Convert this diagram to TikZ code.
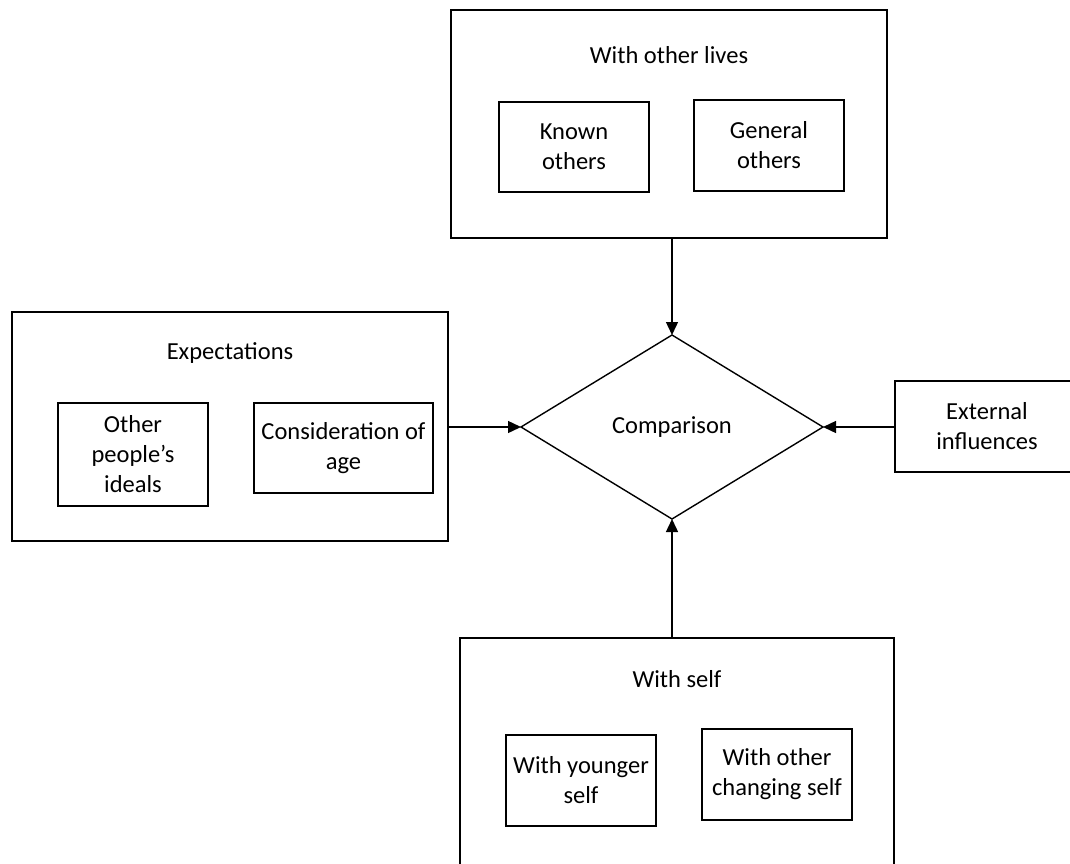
\documentclass[tikz,border=0pt]{standalone}
\usepackage{fontspec}
\setmainfont{Carlito}
\usetikzlibrary{shapes.geometric,arrows.meta}

\tikzset{
  box/.style={draw, line width=1.4pt, rectangle, inner sep=0pt, outer sep=0pt,
              align=center, font=\fontsize{24.5}{30}\selectfont},
  title/.style={inner sep=0pt, font=\fontsize{24.5}{30}\selectfont},
  decision/.style={draw, line width=1.4pt, diamond, inner sep=0pt, outer sep=0pt,
              minimum width=302pt, minimum height=184pt,
              font=\fontsize{24.5}{30}\selectfont},
  flow/.style={line width=1.4pt, -{Triangle[length=13pt,width=12pt]}}
}

\begin{document}
\begin{tikzpicture}[x=1pt,y=-1pt]
  \useasboundingbox (0,0) rectangle (1070,864);

  % Upper group: comparison with other lives
  \node[box, minimum width=436pt, minimum height=228pt] (lives) at (669,124) {};
  \node[title] (livesT) at (669,55) {With other lives};
  \node[box, minimum width=150pt, minimum height=90pt] (known) at (574,147) {Known\\others};
  \node[box, minimum width=150pt, minimum height=91pt] (general) at (769,145.5) {General\\others};

  % Left group: expectations
  \node[box, minimum width=436pt, minimum height=229pt] (expect) at (230,426.5) {};
  \node[title] (expectT) at (230,353) {Expectations};
  \node[box, minimum width=150pt, minimum height=103pt] (ideals) at (133,454.5) {Other\\people’s\\ideals};
  \node[box, minimum width=179pt, minimum height=90pt] (age) at (343.5,448) {Consideration of\\age};

  % Central decision
  \node[decision] (cmp) at (672,427) {Comparison};

  % Right: external influences
  \node[box, minimum width=184pt, minimum height=91pt] (ext) at (987,426.5) {External\\influences};

  % Lower group: comparison with self
  \node[box, minimum width=434pt, minimum height=262pt] (selfbox) at (677,769) {};
  \node[title] (selfT) at (677,679) {With self};
  \node[box, minimum width=150pt, minimum height=91pt] (younger) at (581,780.5) {With younger\\self};
  \node[box, minimum width=150pt, minimum height=91pt] (changing) at (777,774.5) {With other\\changing self};

  % Connectors into the decision
  \draw[flow] (lives.south -| cmp.north) -- (cmp.north);
  \draw[flow] (expect.east |- cmp.west) -- (cmp.west);
  \draw[flow] (ext.west |- cmp.east) -- (cmp.east);
  \draw[flow] (selfbox.north -| cmp.south) -- (cmp.south);
\end{tikzpicture}
\end{document}
